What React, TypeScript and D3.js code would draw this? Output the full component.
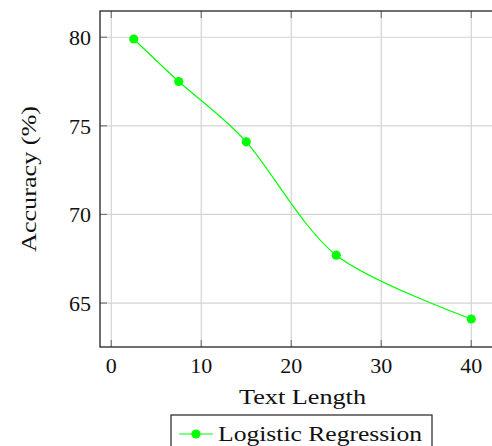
import React from "react";
import * as d3 from "d3";

const textLengths = [2.5, 7.5, 15, 25, 40];
const accuracy = [79.9, 77.5, 74.1, 67.7, 64.1];
const xTicks = [0, 10, 20, 30, 40];
const yTicks = [65, 70, 75, 80];
const seriesName = "Logistic Regression";

const W = 492;
const H = 446;
const plot = { left: 100, right: 505, top: 11, bottom: 347 };
const GREEN = "#00ff00";
const MARK_R = 4.6;

export default function App() {
  // axis limits enlarged by 10% of the data range on each side
  const xr = d3.max(textLengths)! - d3.min(textLengths)!;
  const yr = d3.max(accuracy)! - d3.min(accuracy)!;
  const x = d3
    .scaleLinear()
    .domain([d3.min(textLengths)! - xr * 0.1, d3.max(textLengths)! + xr * 0.1])
    .range([plot.left, plot.right]);
  const y = d3
    .scaleLinear()
    .domain([d3.min(accuracy)! - yr * 0.1, d3.max(accuracy)! + yr * 0.1])
    .range([plot.bottom, plot.top]);

  const pts = textLengths.map((t, i) => [x(t), y(accuracy[i])] as [number, number]);
  const line = d3.line().curve(d3.curveCardinal.tension(0.1))(pts) || "";

  const legend = { x: 171, y: 415, w: 261, h: 40 };

  return (
    <svg
      width={W}
      height={H}
      style={{ position: "absolute", left: 0, top: 0, background: "#fff", fontFamily: "Liberation Serif" }}
    >
      <style>{`.lbl { font-family: "Liberation Serif", serif; fill: #111; }`}</style>
      {/* grid */}
      {xTicks.map((t) => (
        <line key={"gx" + t} x1={x(t)} x2={x(t)} y1={plot.top} y2={plot.bottom} stroke="#d3d3d3" strokeWidth={1.2} />
      ))}
      {yTicks.map((t) => (
        <line key={"gy" + t} x1={plot.left} x2={plot.right} y1={y(t)} y2={y(t)} stroke="#d3d3d3" strokeWidth={1.2} />
      ))}
      {/* inner tick marks */}
      {xTicks.map((t) => (
        <g key={"tx" + t} stroke="#777" strokeWidth={1.2}>
          <line x1={x(t)} x2={x(t)} y1={plot.top} y2={plot.top + 7} />
          <line x1={x(t)} x2={x(t)} y1={plot.bottom} y2={plot.bottom - 7} />
        </g>
      ))}
      {yTicks.map((t) => (
        <line key={"ty" + t} x1={plot.left} x2={plot.left + 7} y1={y(t)} y2={y(t)} stroke="#777" strokeWidth={1.2} />
      ))}
      {/* frame */}
      <rect
        x={plot.left}
        y={plot.top}
        width={plot.right - plot.left}
        height={plot.bottom - plot.top}
        fill="none"
        stroke="#222"
        strokeWidth={1.3}
      />
      {/* series */}
      <path d={line} fill="none" stroke={GREEN} strokeWidth={1.2} />
      {pts.map(([px, py], i) => (
        <circle key={"p" + i} cx={px} cy={py} r={MARK_R} fill={GREEN} />
      ))}
      {/* tick labels */}
      {xTicks.map((t) => (
        <text key={"lx" + t} className="lbl" x={x(t)} y={373} fontSize={22} textAnchor="middle">
          {String(t)}
        </text>
      ))}
      {yTicks.map((t) => (
        <text key={"ly" + t} className="lbl" x={91} y={y(t) + 8} fontSize={22} textAnchor="end">
          {String(t)}
        </text>
      ))}
      {/* axis titles */}
      <text
        className="lbl"
        x={(plot.left + plot.right) / 2}
        y={404}
        fontSize={22}
        textAnchor="middle"
        textLength={127}
        lengthAdjust="spacingAndGlyphs"
      >
        Text Length
      </text>
      <text
        className="lbl"
        transform={`translate(36,${(plot.top + plot.bottom) / 2}) rotate(-90)`}
        fontSize={22}
        textAnchor="middle"
        textLength={146}
        lengthAdjust="spacingAndGlyphs"
      >
        Accuracy (%)
      </text>
      {/* legend */}
      <rect x={legend.x} y={legend.y} width={legend.w} height={legend.h} fill="#fff" stroke="#222" strokeWidth={1.2} />
      <line x1={179} x2={213} y1={434} y2={434} stroke={GREEN} strokeWidth={1.2} />
      <circle cx={196} cy={434} r={MARK_R} fill={GREEN} />
      <text className="lbl" x={218} y={441} fontSize={22} textLength={204} lengthAdjust="spacingAndGlyphs">
        {seriesName}
      </text>
    </svg>
  );
}
